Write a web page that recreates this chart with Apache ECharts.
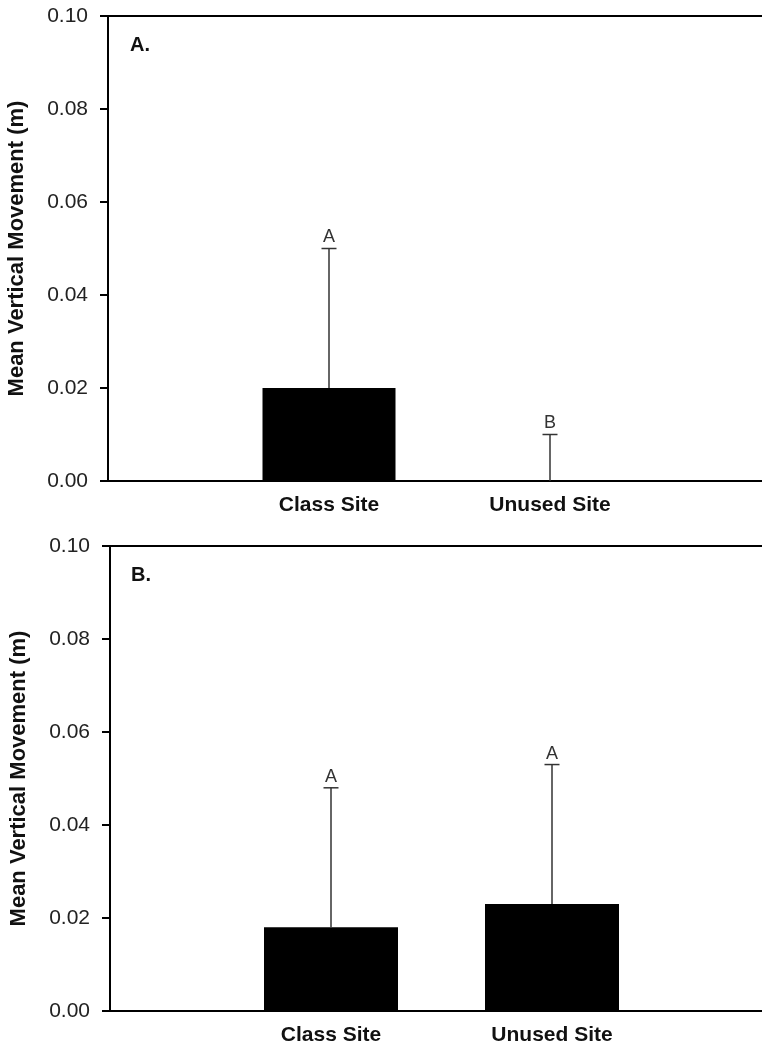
<!DOCTYPE html>
<html>
<head>
<meta charset="utf-8">
<script src="https://cdn.jsdelivr.net/npm/echarts@6/dist/echarts.min.js"></script>
<style>
html,body{margin:0;padding:0;background:#fff;overflow:hidden;}
#chart{width:762px;height:1046px;}
</style>
</head>
<body>
<div id="chart"></div>
<script>
// ---- data ----
const categories = ['Class Site', 'Unused Site'];
const meansA = [0.020, 0.000];
const seA = [0.030, 0.010];
const lettersA = ['A', 'B'];
const meansB = [0.018, 0.023];
const seB = [0.030, 0.030];
const lettersB = ['A', 'A'];
const yTicks = [0.00, 0.02, 0.04, 0.06, 0.08, 0.10];
const panelLabels = ['A.', 'B.'];
const yName = 'Mean Vertical Movement (m)';

// ---- build ----
const axisCats = [''].concat(categories, ['']);
const font = 'Liberation Sans, Arial, sans-serif';

function barData(means) { return [null].concat(means, [null]); }
function errData(means, se, letters) {
  return means.map((m, i) => [i + 1, m, m + se[i], letters[i]]);
}

const grids = [
  { left: 108, width: 663, top: 16, height: 465 },
  { left: 110, width: 663, top: 546, height: 465 }
];

const xAxes = grids.map((g, i) => ({
  type: 'category', gridIndex: i, data: axisCats, boundaryGap: false,
  axisLine: { lineStyle: { color: '#000', width: 2 } },
  axisTick: { show: false },
  axisLabel: { fontFamily: font, fontSize: 21, fontWeight: 'bold', color: '#111', margin: 14, interval: 0 }
}));

const yAxes = grids.map((g, i) => ({
  type: 'value', gridIndex: i, min: yTicks[0], max: yTicks[yTicks.length - 1], interval: 0.02,
  name: yName, nameLocation: 'middle', nameGap: 80,
  nameTextStyle: { fontFamily: font, fontSize: 22, fontWeight: 'bold', color: '#111' },
  axisLine: { show: true, lineStyle: { color: '#000', width: 2 } },
  axisTick: { show: true, length: 8, lineStyle: { color: '#000', width: 2 } },
  splitLine: { show: false },
  axisLabel: { fontFamily: font, fontSize: 21, color: '#222', margin: 20, formatter: v => v.toFixed(2) }
}));

const errSets = [errData(meansA, seA, lettersA), errData(meansB, seB, lettersB)];

function makeRender(set) {
  return function (params, api) {
    const x = api.value(0);
    const p0 = api.coord([x, api.value(1)]);
    const p1 = api.coord([x, api.value(2)]);
    const letter = set[params.dataIndex][3];
    return {
      type: 'group',
      children: [
        { type: 'line', shape: { x1: p0[0], y1: p0[1], x2: p1[0], y2: p1[1] }, style: { stroke: '#333', lineWidth: 1.5 } },
        { type: 'line', shape: { x1: p1[0] - 7.5, y1: p1[1], x2: p1[0] + 7.5, y2: p1[1] }, style: { stroke: '#333', lineWidth: 1.5 } },
        { type: 'text', x: p1[0], y: p1[1] - 2, style: { text: letter, fontFamily: font, fontSize: 18, fill: '#333', align: 'center', verticalAlign: 'bottom' } }
      ]
    };
  };
}

const option = {
  animation: false,
  backgroundColor: '#fff',
  grid: grids.map(g => Object.assign({ show: true, borderColor: '#000', borderWidth: 2, backgroundColor: 'transparent', outerBoundsMode: 'none', containLabel: false }, g)),
  xAxis: xAxes,
  yAxis: yAxes,
  graphic: [
    { type: 'text', x: 130, y: 45, style: { text: panelLabels[0], fontFamily: font, fontSize: 20, fontWeight: 'bold', fill: '#111', verticalAlign: 'middle' } },
    { type: 'text', x: 131, y: 575, style: { text: panelLabels[1], fontFamily: font, fontSize: 20, fontWeight: 'bold', fill: '#111', verticalAlign: 'middle' } }
  ],
  series: [
    { type: 'bar', xAxisIndex: 0, yAxisIndex: 0, data: barData(meansA), barWidth: 133, itemStyle: { color: '#000' } },
    { type: 'custom', xAxisIndex: 0, yAxisIndex: 0, data: errSets[0], renderItem: makeRender(errSets[0]), z: 5 },
    { type: 'bar', xAxisIndex: 1, yAxisIndex: 1, data: barData(meansB), barWidth: 134, itemStyle: { color: '#000' } },
    { type: 'custom', xAxisIndex: 1, yAxisIndex: 1, data: errSets[1], renderItem: makeRender(errSets[1]), z: 5 }
  ]
};

const chart = echarts.init(document.getElementById('chart'), null, { renderer: 'canvas' });
chart.setOption(option);
</script>
</body>
</html>
